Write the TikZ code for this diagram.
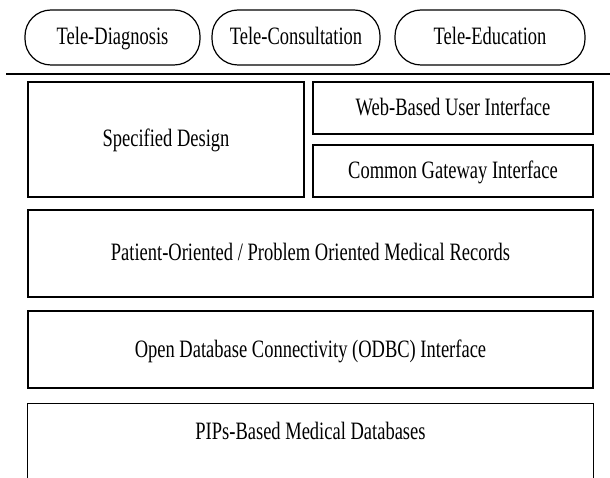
\documentclass[tikz,border=0pt]{standalone}
\usepackage{fontspec}
\setmainfont{Liberation Serif}[FakeStretch=0.74]
\begin{document}
\begin{tikzpicture}[x=1pt,y=-1pt,
  txt/.style={font=\fontsize{25}{28}\selectfont, text height=16pt, text depth=1pt},
  pill/.style={draw, line width=1.2pt, rounded corners=26pt, minimum height=55pt, inner sep=0pt, txt},
  box/.style={draw, line width=1.2pt, inner sep=0pt, txt},
  openbox/.style={inner sep=0pt, txt}]
\useasboundingbox (0,0) rectangle (610,478);
% top pills
\node[pill, minimum width=175pt] (tdiag) at (112.5,37.5) {Tele-Diagnosis};
\node[pill, minimum width=168pt] (tcons) at (296,37.5) {Tele-Consultation};
\node[pill, minimum width=190pt] (tedu) at (490,37.5) {Tele-Education};
% separator line
\coordinate (l1) at (6,74);
\coordinate (l2) at (610,74);
\draw[line width=1.2pt] (l1) -- (l2);
% boxes
\node[box, minimum width=276pt, minimum height=115pt] (spec) at (166,139.5) {Specified Design};
\node[box, minimum width=280pt, minimum height=52pt] (web) at (453,108) {Web-Based User Interface};
\node[box, minimum width=280pt, minimum height=52pt] (cgi) at (453,171) {Common Gateway Interface};
\node[box, minimum width=565pt, minimum height=87pt] (pomr) at (310.5,253.5) {Patient-Oriented / Problem Oriented Medical Records};
\node[box, minimum width=565pt, minimum height=77pt] (odbc) at (310.5,349.5) {Open Database Connectivity (ODBC) Interface};
\node[openbox, minimum width=565pt, minimum height=56pt] (pips) at (310.5,432) {PIPs-Based Medical Databases};
\draw[line width=1.2pt] ([yshift=-30pt]pips.south west) -- (pips.north west) -- (pips.north east) -- ([yshift=-30pt]pips.south east);
\end{tikzpicture}
\end{document}
